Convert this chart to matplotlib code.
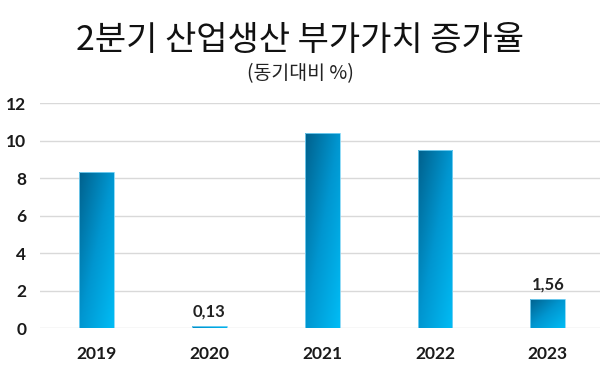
import numpy as np
import matplotlib.pyplot as plt
from matplotlib.colors import LinearSegmentedColormap

plt.rcParams['font.family'] = ['Noto Sans CJK KR', 'DejaVu Sans']

years = ['2019', '2020', '2021', '2022', '2023']
values = [8.32, 0.13, 10.4, 9.5, 1.56]
labels = ['', '0,13', '', '', '1,56']

fig = plt.figure(figsize=(6, 3.69), dpi=100)
ax = fig.add_axes([0.067, 0.11, 0.94, 0.61])

x = np.arange(len(years))
bars = ax.bar(x, values, width=0.31, color='none', edgecolor='#7fd4f5', linewidth=0.6, zorder=3)

# diagonal gradient: dark top-left -> bright bottom-right
cmap = LinearSegmentedColormap.from_list('g', ['#00608c', '#0096d0', '#00bcf5'])
gx, gy = np.meshgrid(np.linspace(0, 1, 50), np.linspace(0, 1, 100))
grad = (gx + gy) / 2
for b in bars:
    x0, y0 = b.get_x(), b.get_y()
    w, h = b.get_width(), b.get_height()
    im = ax.imshow(grad, cmap=cmap, extent=[x0, x0 + w, y0, y0 + h],
                   origin='upper', aspect='auto', zorder=2)
    im.set_clip_path(b)

for i, t in enumerate(labels):
    if t:
        ax.text(x[i], values[i] + 0.35, t, ha='center', va='bottom',
                fontsize=12, fontweight='bold', family='Lato', color='#222222')

ax.set_xlim(-0.5, 4.5)
ax.set_ylim(0, 12)
ax.set_yticks(range(0, 13, 2))
ax.set_xticks(x)
ax.set_xticklabels(years)
ax.grid(axis='y', color='#d9d9d9', linewidth=1, zorder=0)
for s in ax.spines.values():
    s.set_visible(False)
ax.tick_params(length=0, labelsize=12.5)
ax.tick_params(axis='x', pad=13)
ax.tick_params(axis='y', pad=10)
for lab in ax.get_xticklabels() + ax.get_yticklabels():
    lab.set_fontweight('bold')
    lab.set_family('Lato')
    lab.set_color('#1a1a1a')

fig.text(0.5, 0.89, '2분기 산업생산 부가가치 증가율', ha='center', va='center',
         fontsize=24.5, color='#111111')
fig.text(0.5, 0.80, '(동기대비 %)', ha='center', va='center', fontsize=14, color='#222222')

fig.savefig('out.png', dpi=100)
